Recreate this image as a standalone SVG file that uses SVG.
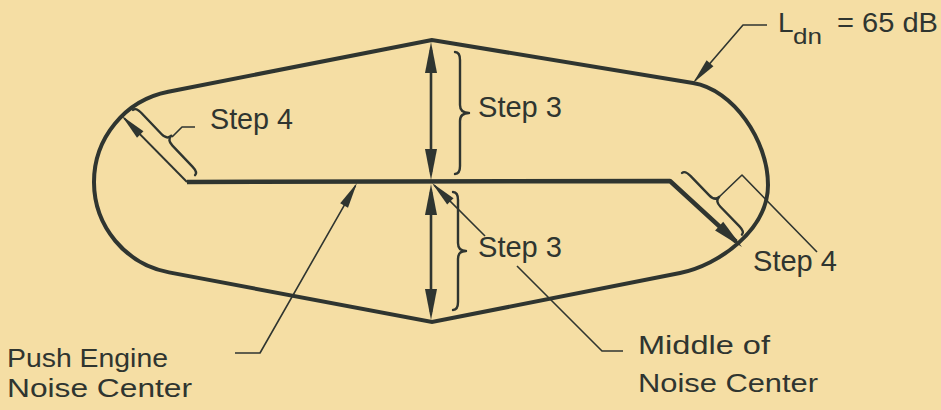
<svg xmlns="http://www.w3.org/2000/svg" width="941" height="410" viewBox="0 0 941 410">
  <style>
    .ink { stroke: #2f3530; fill: none; stroke-linecap: butt; stroke-linejoin: round; }
    .outline { stroke-width: 4; stroke-linejoin: miter; }
    .thick { stroke-width: 4.5; }
    .dim { stroke-width: 2.6; }
    .thin { stroke-width: 1.6; }
    .brace { stroke-width: 2.4; stroke-linecap: round; }
    .lbl { font-family: "Liberation Sans", "DejaVu Sans", sans-serif; fill: #2f3530; }
    .step { font-size: 29px; }
    .cap { font-size: 26px; }
    .head { fill: #2f3530; stroke: none; }
  </style>
  <defs>
    <marker id="big" markerUnits="userSpaceOnUse" orient="auto-start-reverse" refX="0" refY="0" markerWidth="40" markerHeight="20" overflow="visible">
      <path class="head" d="M8,0 L-23,-6 L-23,6 Z"/>
    </marker>
    <marker id="small" markerUnits="userSpaceOnUse" orient="auto-start-reverse" refX="0" refY="0" markerWidth="30" markerHeight="12" overflow="visible">
      <path class="head" d="M3,0 L-23,-4.5 L-23,4.5 Z"/>
    </marker>
  </defs>

  <rect x="0" y="0" width="941" height="410" fill="#f5dea4"/>

  <g id="contour">
    <path class="ink outline" d="M432,40 L168.3,91.7 A92,92 0 0 0 169,272.4 L432,322 L680,273 C719,265 768,230 768,185 C768,140 733,89.5 693,83 Z"/>
  </g>

  <g id="connectors">
    <!-- flight track centerline with step 4 extensions -->
    <path class="ink thick" d="M187,182 L670,181 L736.1,241.6" marker-end="url(#big)"/>
    <path class="ink thin" style="stroke-width:2" d="M187,182 L124.1,118.1" marker-end="url(#small)"/>
    <!-- step 3 vertical double arrows -->
    <path class="ink dim" d="M431,50 L431,172" marker-start="url(#big)" marker-end="url(#big)"/>
    <path class="ink dim" d="M431,192 L431,312" marker-start="url(#big)" marker-end="url(#big)"/>
    <!-- leaders -->
    <path class="ink thin" d="M767,25 L743,25 L695,80.7" marker-end="url(#small)"/>
    <path class="ink thin" d="M235,353 L260,353 L355.5,185.6" marker-end="url(#small)"/>
    <path class="ink thin" d="M485,236 L434.1,185.1" marker-end="url(#small)"/>
    <path class="ink thin" d="M517,266 L602,351 L623,351"/>
    <path class="ink thin" d="M172,137 L182,127 L195,127"/>
    <path class="ink thin" d="M718,198 L742,175 L817,252"/>
  </g>

  <g id="braces">
    <path class="ink brace" transform="translate(455,52) rotate(90)" d="M0,0 Q0,-5 8,-5 L53,-5 Q61,-5 61,-14 Q61,-5 69,-5 L114,-5 Q122,-5 122,0"/>
    <path class="ink brace" transform="translate(453,192) rotate(90)" d="M0,0 Q0,-5 8,-5 L51,-5 Q59,-5 59,-13 Q59,-5 67,-5 L110,-5 Q118,-5 118,0"/>
    <path class="ink brace" transform="translate(133,110) rotate(46.4)" d="M0,0 Q0,-4 8,-4 L37,-4 Q45,-4 45,-10 Q45,-4 53,-4 L82,-4 Q90,-4 90,0"/>
    <path class="ink brace" transform="translate(682,173) rotate(45.8)" d="M0,0 Q0,-4 8,-4 L35,-4 Q43,-4 43,-10 Q43,-4 51,-4 L78,-4 Q86,-4 86,0"/>
  </g>

  <g id="labels">
    <text class="lbl step" x="210" y="129" textLength="83" lengthAdjust="spacingAndGlyphs">Step 4</text>
    <text class="lbl step" x="478" y="117" textLength="84" lengthAdjust="spacingAndGlyphs">Step 3</text>
    <text class="lbl step" x="478" y="257" textLength="84" lengthAdjust="spacingAndGlyphs">Step 3</text>
    <text class="lbl step" x="753" y="271" textLength="84" lengthAdjust="spacingAndGlyphs">Step 4</text>
    <text class="lbl cap" x="638" y="354" textLength="132" lengthAdjust="spacingAndGlyphs">Middle of</text>
    <text class="lbl cap" x="638" y="392" textLength="180" lengthAdjust="spacingAndGlyphs">Noise Center</text>
    <text class="lbl cap" x="7" y="367" textLength="161" lengthAdjust="spacingAndGlyphs">Push Engine</text>
    <text class="lbl cap" x="7" y="397" textLength="185" lengthAdjust="spacingAndGlyphs">Noise Center</text>
    <text class="lbl" style="font-size:28px" x="778" y="32">L</text>
    <text class="lbl" style="font-size:22px" x="793" y="44" textLength="29" lengthAdjust="spacingAndGlyphs">dn</text>
    <text class="lbl" style="font-size:27px" x="837" y="32" textLength="101" lengthAdjust="spacingAndGlyphs">= 65 dB</text>
  </g>
</svg>
